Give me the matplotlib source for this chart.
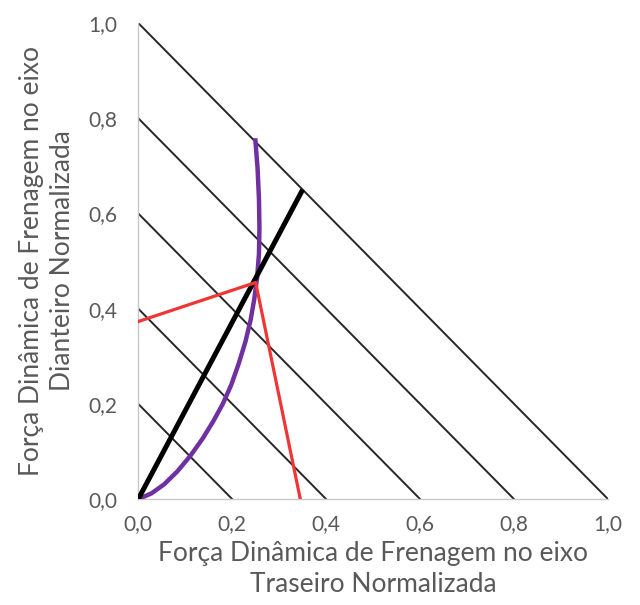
import matplotlib
matplotlib.use("Agg")
import matplotlib.pyplot as plt
from matplotlib.ticker import FuncFormatter

plt.rcParams['font.family'] = ['Lato', 'DejaVu Sans']

# lines of constant total braking force (front + rear)
total_levels = [0.2, 0.4, 0.6, 0.8, 1.0]

# ideal braking curve (rear, front)
ideal_rear = [0.0, 0.028, 0.055, 0.083, 0.111, 0.137, 0.160, 0.180, 0.198, 0.214,
              0.228, 0.239, 0.247, 0.253, 0.257, 0.258, 0.257, 0.254, 0.249]
ideal_front = [0.0, 0.012, 0.031, 0.058, 0.091, 0.127, 0.164, 0.200, 0.240, 0.285,
               0.330, 0.375, 0.420, 0.465, 0.515, 0.570, 0.630, 0.695, 0.758]

# installed braking distribution (black line)
dist_rear = [0.0, 0.35]
dist_front = [0.0, 0.65]

# red lines through the intersection point
red_rear = [0.0, 0.25, 0.345]
red_front = [0.373, 0.455, 0.0]

xticks = [0.0, 0.2, 0.4, 0.6, 0.8, 1.0]
yticks = [0.0, 0.2, 0.4, 0.6, 0.8, 1.0]

fig = plt.figure(figsize=(6.4, 6.05), dpi=100)
ax = fig.add_axes([0.216, 0.175, 0.734, 0.787])

for c in total_levels:
    ax.plot([0, c], [c, 0], color='#262626', lw=1.4, zorder=2)

ax.plot(ideal_rear, ideal_front, color='#7030A0', lw=3.2, zorder=3,
        solid_capstyle='butt', solid_joinstyle='round')
ax.plot(dist_rear, dist_front, color='black', lw=3.6, zorder=4, solid_capstyle='butt')
ax.plot(red_rear, red_front, color='#F03535', lw=2.3, zorder=5)

ax.set_xlim(0, 1.0)
ax.set_ylim(0, 1.0)
ax.set_xticks(xticks)
ax.set_yticks(yticks)
fmt = FuncFormatter(lambda v, p: f"{v:.1f}".replace('.', ','))
ax.xaxis.set_major_formatter(fmt)
ax.yaxis.set_major_formatter(fmt)
ax.tick_params(length=0, labelsize=15, labelcolor='#595959')
ax.tick_params(axis='x', pad=11)
ax.tick_params(axis='y', pad=15)

for s in ['top', 'right']:
    ax.spines[s].set_visible(False)
for s in ['left', 'bottom']:
    ax.spines[s].set_color('#c8c8c8')
    ax.spines[s].set_linewidth(1.0)

ax.set_xlabel("Força Dinâmica de Frenagem no eixo\nTraseiro Normalizada",
              fontsize=19, color='#595959', labelpad=5, linespacing=1.3)
ax.set_ylabel("Força Dinâmica de Frenagem no eixo\nDianteiro Normalizada",
              fontsize=19, color='#595959', labelpad=10, linespacing=1.3)

fig.savefig("out.png", dpi=100)
